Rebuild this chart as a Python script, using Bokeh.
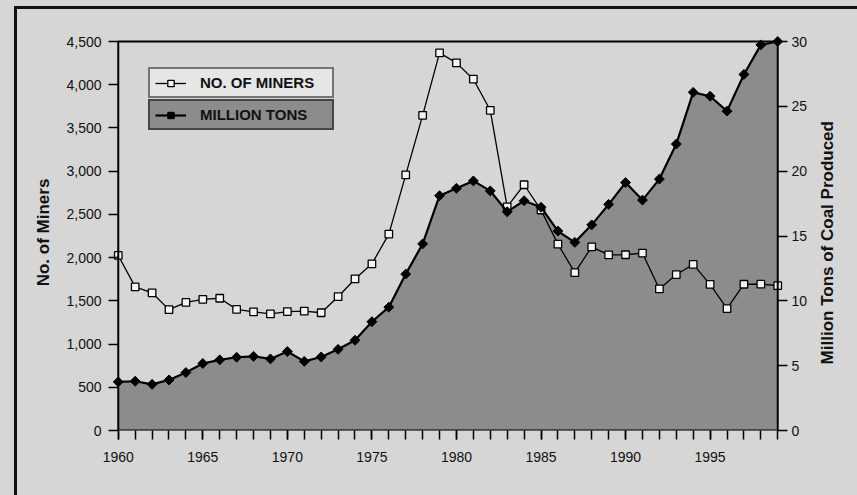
import math
from bokeh.plotting import figure
from bokeh.models import (LinearAxis, Range1d, FixedTicker, NumeralTickFormatter,
                          Legend, LegendItem, BoxAnnotation)
from bokeh.embed import file_html
from bokeh.resources import INLINE

# ---- data ----
years = list(range(1960, 2000))
miners = [2025, 1661, 1593, 1398, 1482, 1518, 1530, 1401, 1373, 1348,
          1376, 1381, 1362, 1548, 1753, 1928, 2272, 2957, 3646, 4368,
          4253, 4064, 3704, 2588, 2843, 2551, 2156, 1826, 2124, 2032,
          2033, 2052, 1638, 1804, 1921, 1691, 1410, 1692, 1693, 1675]
tons = [3.75, 3.80, 3.56, 3.90, 4.47, 5.17, 5.45, 5.65, 5.72, 5.52,
        6.09, 5.33, 5.67, 6.26, 6.96, 8.39, 9.51, 12.06, 14.39, 18.11,
        18.68, 19.25, 18.48, 16.87, 17.72, 17.22, 15.38, 14.51, 15.86, 17.44,
        19.12, 17.77, 19.39, 22.09, 26.08, 25.78, 24.63, 27.46, 29.74, 30.0]
miner_ticks = list(range(0, 4501, 500))
ton_ticks = list(range(0, 31, 5))
year_label_ticks = list(range(1960, 2000, 5))
miners_label = "NO. OF MINERS"
tons_label = "MILLION TONS"
left_title = "No. of Miners"
right_title = "Million Tons of Coal Produced"

X0, X1 = 1960, 1999
Y_MAX_MINERS, Y_MAX_TONS = 4500, 30
PAD_X = 0.4                      # room so edge markers are not clipped
Y_TOP = Y_MAX_MINERS * 396 / 389  # room above the top line

BG = "#d6d6d6"
FILL = "#8c8c8c"
INK = "#111111"
FONT = "Liberation Sans"

p = figure(width=849, height=479, output_backend="svg", toolbar_location=None,
           x_range=Range1d(X0 - PAD_X, X1 + PAD_X), y_range=Range1d(0, Y_TOP),
           min_border_left=111, min_border_right=64, min_border_top=34,
           min_border_bottom=49)
p.extra_y_ranges = {"tons": Range1d(0, Y_TOP * Y_MAX_TONS / Y_MAX_MINERS)}
# page background + the black left/top rules of the printed frame
shadows = [
    "inset 14px 6px 0 0 " + BG,
    "inset 17px 9px 0 0 " + INK,
    "17px 24px 0 0 " + BG,
    "24px 9px 0 0 " + BG,
    "14px 24px 0 0 " + INK,
    "24px 6px 0 0 " + INK,
    "0 0 0 30px " + BG,
]
p.styles = {"background-color": BG, "box-shadow": ", ".join(shadows)}

p.background_fill_color = BG
p.border_fill_alpha = 0
p.outline_line_color = None
p.xgrid.grid_line_color = None
p.ygrid.grid_line_color = None

# glyphs
p.varea(x=years, y1=0, y2=tons, y_range_name="tons", fill_color=FILL)
r_mline = p.line(years, miners, line_color="black", line_width=1.3)
r_msq = p.scatter(years, miners, marker="square", size=7.5, fill_color="#f4f4f4",
                  line_color="black", line_width=1.3)
r_tline = p.line(years, tons, y_range_name="tons", line_color="black", line_width=2.2)
r_tdia = p.scatter(years, tons, y_range_name="tons", marker="square", angle=0.785398,
                   size=7, fill_color="black", line_color="black", line_width=1)

# plot rectangle (data frame 1960-1999, 0-4500)
p.add_layout(BoxAnnotation(left=X0, right=X1, bottom=0, top=Y_MAX_MINERS,
                           fill_alpha=0, line_color="black", line_width=2,
                           line_alpha=1))

# axes
def style_axis(ax):
    ax.axis_line_color = None
    ax.major_tick_line_color = "black"
    ax.major_tick_line_width = 1.5
    ax.minor_tick_line_color = None
    ax.major_label_text_font = FONT
    ax.major_label_text_font_size = "14px"
    ax.major_label_text_color = INK
    ax.axis_label_text_font = FONT
    ax.axis_label_text_font_size = "17px"
    ax.axis_label_text_font_style = "bold"
    ax.axis_label_text_color = INK

xa = p.xaxis[0]
style_axis(xa)
xa.ticker = FixedTicker(ticks=year_label_ticks, minor_ticks=years)
xa.major_tick_in = 0
xa.major_tick_out = 9
xa.minor_tick_line_color = "black"
xa.minor_tick_line_width = 1.5
xa.minor_tick_in = 0
xa.minor_tick_out = 9
xa.major_label_standoff = 12

ya = p.yaxis[0]
style_axis(ya)
ya.ticker = FixedTicker(ticks=miner_ticks)
ya.formatter = NumeralTickFormatter(format="0,0")
ya.axis_label = left_title
ya.major_tick_in = 7
ya.major_tick_out = 3
ya.major_label_standoff = 7
ya.axis_label_standoff = 10

# right axis: title reads bottom-to-top, starting a little above the x axis
ra = LinearAxis(y_range_name="tons", ticker=FixedTicker(ticks=ton_ticks),
                axis_label="\u00a0" * 14 + right_title)
style_axis(ra)
ra.major_tick_in = 7
ra.major_tick_out = 3
ra.major_label_standoff = 4
ra.axis_label_standoff = 17
ra.axis_label_orientation = math.pi / 2
ra.axis_label_align = "start"
p.add_layout(ra, "right")

# legend (two stacked boxes)
def make_legend(label, rends, loc, bg):
    return Legend(items=[LegendItem(label=label, renderers=rends)], location=loc,
                  border_line_color="black", border_line_width=2,
                  background_fill_color=bg, background_fill_alpha=1,
                  label_text_font=FONT, label_text_font_style="bold",
                  label_text_font_size="15px", label_text_color=INK,
                  padding=5, glyph_width=31, glyph_height=16, label_height=16,
                  label_width=127, label_standoff=14, margin=0, spacing=0)

p.add_layout(make_legend(miners_label, [r_mline, r_msq], (37, 332), "#e6e6e6"))
p.add_layout(make_legend(tons_label, [r_tline, r_tdia], (37, 300), FILL))

open("out.html", "w").write(file_html(p, INLINE))
